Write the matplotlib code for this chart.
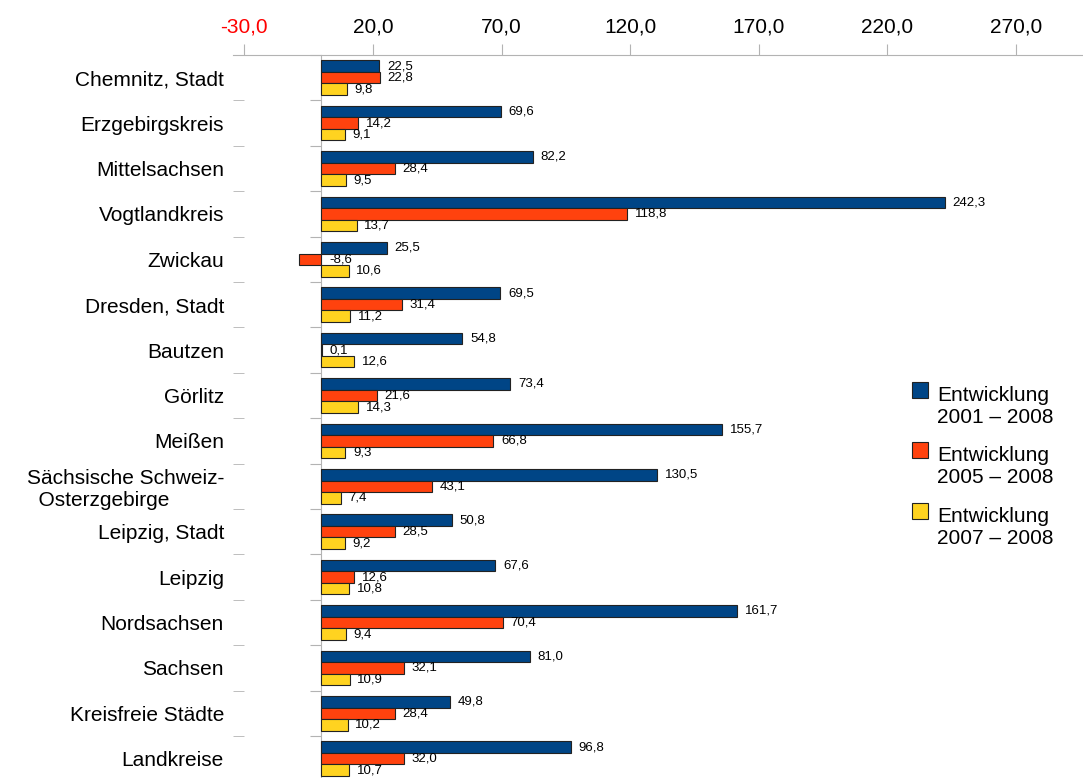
import numpy as np
import matplotlib.pyplot as plt
from matplotlib.patches import Rectangle

plt.rcParams['font.family'] = ['Liberation Sans', 'DejaVu Sans']

regions = ["Chemnitz, Stadt", "Erzgebirgskreis", "Mittelsachsen", "Vogtlandkreis",
           "Zwickau", "Dresden, Stadt", "Bautzen", "Görlitz", "Meißen",
           "Sächsische Schweiz-\n  Osterzgebirge", "Leipzig, Stadt", "Leipzig",
           "Nordsachsen", "Sachsen", "Kreisfreie Städte", "Landkreise"]

dev_2001_2008 = [22.5, 69.6, 82.2, 242.3, 25.5, 69.5, 54.8, 73.4, 155.7, 130.5,
                 50.8, 67.6, 161.7, 81.0, 49.8, 96.8]
dev_2005_2008 = [22.8, 14.2, 28.4, 118.8, -8.6, 31.4, 0.1, 21.6, 66.8, 43.1,
                 28.5, 12.6, 70.4, 32.1, 28.4, 32.0]
dev_2007_2008 = [9.8, 9.1, 9.5, 13.7, 10.6, 11.2, 12.6, 14.3, 9.3, 7.4,
                 9.2, 10.8, 9.4, 10.9, 10.2, 10.7]

series = [dev_2001_2008, dev_2005_2008, dev_2007_2008]
names = ["Entwicklung\n2001 – 2008", "Entwicklung\n2005 – 2008", "Entwicklung\n2007 – 2008"]
colors = ["#004586", "#ff420e", "#ffd320"]
xticks = [-30, 20, 70, 120, 170, 220, 270]

W, H = 1083, 778
fig = plt.figure(figsize=(W / 100, H / 100), dpi=100)
# axes box in pixels: left 233, right at figure edge, top 55, 16 rows of 45.4 px
ax = fig.add_axes([233 / W, 1 - (55 + 16 * 45.4) / H, 1 - 233 / W, 16 * 45.4 / H])

gray = "#b3b3b3"
n = len(regions)
y = np.arange(n)
h = 0.254

for k, (vals, c) in enumerate(zip(series, colors)):
    pos = y + (k - 1) * h
    ax.barh(pos, vals, height=h, color=c, edgecolor="#222222", linewidth=0.8, zorder=3)
    for p, v in zip(pos, vals):
        ax.annotate(f"{v:.1f}".replace(".", ","), xy=(max(v, 0), p),
                    xytext=(5.5, 0), textcoords="offset points",
                    ha="left", va="center", fontsize=9.5, zorder=4)

ax.set_xlim(-34.4, 296)
ax.set_ylim(n - 0.5, -0.5)

# value axis on top
ax.xaxis.tick_top()
ax.set_xticks(xticks)
ax.set_xticklabels([f"{t:.1f}".replace(".", ",") for t in xticks], fontsize=15)
ax.tick_params(axis="x", which="major", length=8, color=gray, pad=5.5)
for t, lab in zip(xticks, ax.get_xticklabels()):
    if t < 0:
        lab.set_color("red")

# category axis: labels at centers, ticks between categories
ax.set_yticks(y)
ax.set_yticklabels(regions, fontsize=15)
for lab in ax.get_yticklabels():
    if "\n" in lab.get_text():
        lab.set_multialignment("left")
ax.set_yticks(np.arange(n + 1) - 0.5, minor=True)
ax.tick_params(axis="y", which="major", length=0, pad=6.5)
ax.tick_params(axis="y", which="minor", length=8, direction="in", color=gray)

for s in ["left", "right", "bottom"]:
    ax.spines[s].set_visible(False)
ax.spines["top"].set_color(gray)

# zero line with its own category ticks
x0, x1 = ax.get_xlim()
zero = ax.secondary_yaxis((0 - x0) / (x1 - x0))
zero.spines["left"].set_color(gray)
zero.set_yticks(np.arange(n + 1) - 0.5)
zero.set_yticklabels([])
zero.tick_params(axis="y", length=8, color=gray, direction="out")

# legend
for k, (name, c) in enumerate(zip(names, colors)):
    top = 382 + k * 60.3
    fig.patches.append(Rectangle((912 / W, 1 - (top + 16) / H), 16 / W, 16 / H,
                                 transform=fig.transFigure, facecolor=c,
                                 edgecolor="#222222", linewidth=0.8))
    fig.text(937 / W, 1 - (top + 4) / H, name, fontsize=15, ha="left", va="top")

fig.savefig("out.png", dpi=100)
